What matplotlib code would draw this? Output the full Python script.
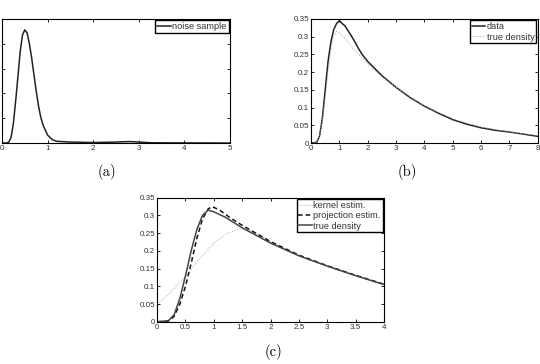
import numpy as np
import matplotlib
matplotlib.use('Agg')
from matplotlib import pyplot as plt
from matplotlib.ticker import FormatStrFormatter

# (a) noise sample
noise_x = [0, 0.1, 0.15, 0.2, 0.25, 0.3, 0.35, 0.4, 0.45, 0.5, 0.55, 0.6, 0.65, 0.7,
           0.75, 0.8, 0.85, 0.9, 1.0, 1.1, 1.2, 1.5, 2.0, 2.5, 2.8, 3.0, 3.3, 5.0]
noise_y = [0, 0.0, 0.02, 0.12, 0.4, 0.85, 1.35, 1.85, 2.18, 2.28, 2.22, 2.0, 1.72, 1.38,
           1.05, 0.75, 0.52, 0.36, 0.16, 0.07, 0.035, 0.02, 0.01, 0.02, 0.03, 0.02, 0.005, 0.0]

# (b) observed data
data_x = [0, 0.2, 0.3, 0.4, 0.5, 0.6, 0.7, 0.8, 0.9, 1.0, 1.1, 1.2, 1.4, 1.6, 1.65, 1.8,
          2.0, 2.5, 3.0, 3.5, 4.0, 4.5, 5.0, 5.5, 6.0, 6.5, 7.0, 7.5, 8.0]
data_y = [0, 0.002, 0.02, 0.07, 0.15, 0.23, 0.285, 0.32, 0.337, 0.345, 0.337, 0.33,
          0.305, 0.278, 0.27, 0.25, 0.23, 0.19, 0.157, 0.128, 0.104, 0.084, 0.066,
          0.053, 0.043, 0.036, 0.031, 0.025, 0.019]

# true density
true_x = [0, 0.2, 0.3, 0.4, 0.5, 0.6, 0.7, 0.8, 0.9, 1.0, 1.2, 1.5, 2.0, 2.5, 3.0,
          3.5, 4.0, 5.0, 6.0, 7.0, 8.0]
true_y = [0, 0.003, 0.02, 0.065, 0.13, 0.2, 0.26, 0.3, 0.315, 0.31, 0.295, 0.265,
          0.222, 0.186, 0.157, 0.13, 0.105, 0.068, 0.045, 0.031, 0.021]

# (c) estimators
proj_x = [0, 0.2, 0.3, 0.4, 0.5, 0.6, 0.7, 0.8, 0.9, 0.97, 1.1, 1.3, 1.5, 2.0, 2.5,
          3.0, 3.5, 4.0]
proj_y = [0, 0.002, 0.015, 0.05, 0.1, 0.165, 0.235, 0.29, 0.318, 0.325, 0.315, 0.292,
          0.272, 0.226, 0.188, 0.158, 0.131, 0.106]
kern_x = [0, 0.25, 0.5, 0.75, 1.0, 1.25, 1.45, 1.6, 1.8, 2.0, 2.5, 3.0, 3.5, 4.0]
kern_y = [0.048, 0.085, 0.128, 0.178, 0.222, 0.25, 0.262, 0.26, 0.245, 0.226, 0.186,
          0.157, 0.13, 0.105]

plt.rcParams['font.family'] = ['Liberation Sans', 'DejaVu Sans']
plt.rcParams['font.size'] = 5.5


def style(ax):
    ax.tick_params(direction='in', length=2.5, width=0.6, top=True, right=True,
                   labelsize=5.8, pad=1.5, labelcolor='#333333')
    for s in ax.spines.values():
        s.set_linewidth(0.8)


def legend(ax):
    leg = ax.legend(loc='upper right', fontsize=6.6, fancybox=False, framealpha=1,
                    edgecolor='black', handlelength=1.5, handletextpad=0.15,
                    borderpad=0.2, labelspacing=0.15, borderaxespad=0.15)
    leg.get_frame().set_linewidth(1.0)
    for t in leg.get_texts():
        t.set_color('#333333')


fig = plt.figure(figsize=(5.4, 3.64), dpi=100)

ax_a = fig.add_axes([0.0037, 0.607, 0.4223, 0.341])
ax_a.plot(noise_x, noise_y, color='#222222', lw=1.1, label='noise sample')
ax_a.set_xlim(0, 5)
ax_a.set_ylim(0, 2.5)
ax_a.set_yticks(np.arange(0, 2.51, 0.5))
ax_a.yaxis.set_major_formatter(FormatStrFormatter('%g'))
style(ax_a)
legend(ax_a)

ax_b = fig.add_axes([0.576, 0.607, 0.42, 0.341])
ax_b.plot(data_x, data_y, color='#222222', lw=1.1, label='data')
ax_b.plot(true_x, true_y, color='#aaaaaa', lw=0.7, ls=':', label='true density')
ax_b.set_xlim(0, 8)
ax_b.set_ylim(0, 0.35)
ax_b.set_yticks(np.arange(0, 0.351, 0.05))
ax_b.yaxis.set_major_formatter(FormatStrFormatter('%g'))
style(ax_b)
legend(ax_b)

ax_c = fig.add_axes([0.291, 0.116, 0.42, 0.341])
ax_c.plot(kern_x, kern_y, color='#aaaaaa', lw=0.7, ls=':', label='kernel estim.')
ax_c.plot(proj_x, proj_y, color='#111111', lw=1.1, ls=(0, (3, 2)), label='projection estim.')
ax_c.plot(true_x, true_y, color='#444444', lw=1.1, label='true density')
ax_c.set_xlim(0, 4)
ax_c.set_ylim(0, 0.35)
ax_c.set_xticks(np.arange(0, 4.01, 0.5))
ax_c.set_yticks(np.arange(0, 0.351, 0.05))
ax_c.xaxis.set_major_formatter(FormatStrFormatter('%g'))
ax_c.yaxis.set_major_formatter(FormatStrFormatter('%g'))
style(ax_c)
legend(ax_c)

for txt, x, y in [('(a)', 0.198, 0.527), ('(b)', 0.754, 0.527), ('(c)', 0.506, 0.033)]:
    fig.text(x, y, txt, ha='center', va='center', fontsize=10.5, family='cmr10')

fig.savefig('out.png', dpi=100)
